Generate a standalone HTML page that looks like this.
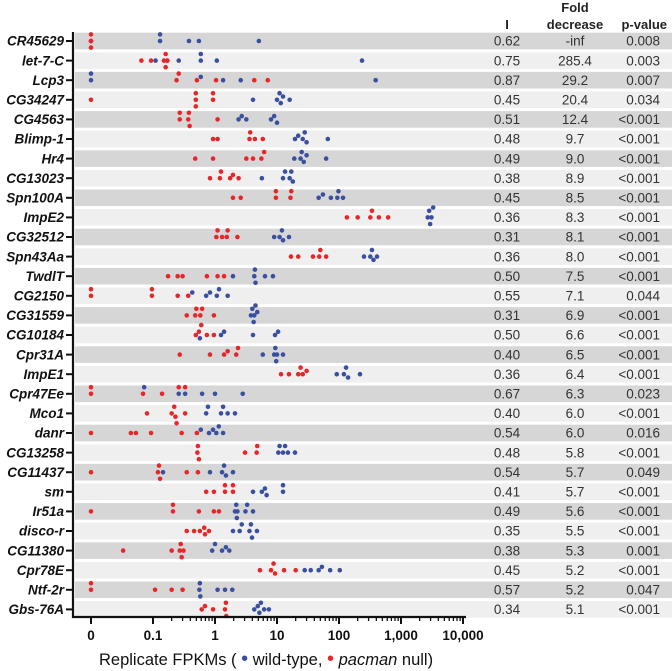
<!DOCTYPE html>
<html><head><meta charset="utf-8">
<style>
html,body{margin:0;padding:0;background:#fff;}
svg{display:block;font-family:"Liberation Sans",Arial,sans-serif;}
</style></head>
<body>
<svg id="chart" width="672" height="671" viewBox="0 0 672 671" xmlns="http://www.w3.org/2000/svg">
  <g id="bands"></g>
  <g id="table"></g>
  <g id="labels"></g>
  <g id="dots"></g>
  <g id="axes"></g>
</svg>
<script>
const genes = ["CR45629","let-7-C","Lcp3","CG34247","CG4563","Blimp-1","Hr4","CG13023","Spn100A","ImpE2","CG32512","Spn43Aa","TwdlT","CG2150","CG31559","CG10184","Cpr31A","ImpE1","Cpr47Ee","Mco1","danr","CG13258","CG11437","sm","Ir51a","disco-r","CG11380","Cpr78E","Ntf-2r","Gbs-76A"];
const colI = ["0.62","0.75","0.87","0.45","0.51","0.48","0.49","0.38","0.45","0.36","0.31","0.36","0.50","0.55","0.31","0.50","0.40","0.36","0.67","0.40","0.54","0.48","0.54","0.41","0.49","0.35","0.38","0.45","0.57","0.34"];
const colFold = ["-inf","285.4","29.2","20.4","12.4","9.7","9.0","8.9","8.5","8.3","8.1","8.0","7.5","7.1","6.9","6.6","6.5","6.4","6.3","6.0","6.0","5.8","5.7","5.7","5.6","5.5","5.3","5.2","5.2","5.1"];
const colP = ["0.008","0.003","0.007","0.034","<0.001","<0.001","<0.001","<0.001","<0.001","<0.001","<0.001","<0.001","<0.001","0.044","<0.001","<0.001","<0.001","<0.001","0.023","<0.001","0.016","<0.001","0.049","<0.001","<0.001","<0.001","0.001","<0.001","0.047","<0.001"];
const wildType = [
 [0,0.13,0.13,0.38,0.55,5.1],
 [0.11,0.26,0.59,0.59,1.07,235],
 [0,0,0.59,1.35,2.6,390],
 [4.1,10,11,11.5,12.5,16],
 [2.4,2.7,3.2,8,9,10],
 [19.5,22,26,28,30,66],
 [19,24,25,27,30,62],
 [5.7,12.5,13.5,16,17,18],
 [47,55,74,94,98,116],
 [2700,2850,2950,3100,3300],
 [9,11,12,12.5,15.6],
 [253,320,340,360,410],
 [1.95,4.3,4.4,4.5,6.4,8.6],
 [0.43,0.72,0.83,1.07,1.16,1.6],
 [3.8,4.0,4.2,4.3,4.5,4.8],
 [0.57,1.25,1.4,4.1,9.3,10.4],
 [5.9,9,9.4,9.7,10,12.5],
 [92,120,130,140,218],
 [0.072,0.26,0.33,0.62,1.0,2.8],
 [0.72,0.77,1.25,1.35,1.6,2.1],
 [0.59,0.8,0.93,1.05,1.15,1.35],
 [10.5,11,12.5,13.5,15,19.5],
 [0.145,0.83,1.3,1.4,1.5,1.95],
 [4.1,5.7,6.4,6.8,12.5,12.5],
 [2.1,2.2,2.25,2.3,3.1,3.3,4.1],
 [1.95,2.5,2.7,3.6,3.8,3.95,4.75],
 [0.9,1.0,1.3,1.5,1.7],
 [28,35,47,53,72,103],
 [0.56,0.57,0.58,1.1,1.45,1.9],
 [4.3,4.9,5.2,5.5,6.2,7.4]
];
const pacman = [
 [0,0,0,0],
 [0.065,0.093,0.15,0.16,0.16,0.17,0.17],
 [0.24,0.26,0.51,1.04,4.3,7.1],
 [0,0.49,0.49,0.49,0.93,0.93],
 [0.27,0.27,0.37,0.38,0.39,1.1],
 [0.93,1.1,3.6,3.7,4.4,5.9],
 [0.48,0.93,3.2,4.1,5.6,6.2],
 [0.83,1.2,1.25,1.75,1.95,2.4],
 [1.95,2.6,9.6,9.6,16.5,17],
 [134,200,320,340,440,620],
 [1.05,1.1,1.3,1.55,1.6,2.3],
 [16.8,22,38,48,50,62],
 [0.175,0.25,0.30,0.74,1.1,1.4],
 [0,0,0.096,0.096,0.25,0.37],
 [0.35,0.48,0.5,0.58,0.62,0.96],
 [0.49,0.55,0.6,0.74,0.96],
 [0.27,0.83,1.4,1.6,2.2,2.35],
 [11.6,15.6,22,24,26,30],
 [0,0,0.069,0.14,0.26,0.33],
 [0.08,0.2,0.22,0.23,0.24,0.33],
 [0,0.044,0.053,0.093,0.29,0.51],
 [0.52,0.53,0.55,3.05,4.7,4.8],
 [0,0.12,0.125,0.13,0.35,0.53],
 [0.72,0.96,1.45,1.45,1.95,1.95],
 [0,0.21,0.21,0.55,0.96,1.16],
 [0.35,0.46,0.57,0.67,0.69,0.8],
 [0.033,0.2,0.27,0.28,0.29,0.31],
 [5.3,8,8.8,9.3,13,20],
 [0,0,0.108,0.2,0.3],
 [0.61,0.69,0.93,1.45,1.5,1.52]
];
const tickLabels = ["0","0.1","1","10","100","1,000","10,000"];
const tickValues = [0,0.1,1,10,100,1000,10000];

const NS="http://www.w3.org/2000/svg";
function mk(tag,attrs,parent,text){const e=document.createElementNS(NS,tag);for(const k in attrs)e.setAttribute(k,attrs[k]);if(text!==undefined)e.textContent=text;parent.appendChild(e);return e;}
const X0=215, DEC=62, ZERO_X=91;
function xScale(v){return v<=0?ZERO_X:X0+DEC*Math.log10(v);}
const ROW0=41, ROWH=19.6;
function yScale(i){return ROW0+ROWH*i;}

const bands=document.getElementById('bands'), table=document.getElementById('table'), labels=document.getElementById('labels'), dots=document.getElementById('dots'), axes=document.getElementById('axes');

// headers
let h;
h=mk('text',{x:575,y:12,'text-anchor':'middle','font-size':13,'font-weight':'bold',fill:'#222'},table,'Fold');

h=mk('text',{x:507,y:29,'text-anchor':'middle','font-size':13,'font-weight':'bold',fill:'#222'},table,'I');

h=mk('text',{x:575,y:29,'text-anchor':'middle','font-size':13,'font-weight':'bold',fill:'#222'},table,'decrease');

h=mk('text',{x:667,y:29,'text-anchor':'end','font-size':13,'font-weight':'bold',fill:'#222'},table,'p-value');


genes.forEach((g,i)=>{
  const yc=yScale(i);
  const b=mk('rect',{x:75,y:yc-8.3,width:597,height:16.6,fill:i%2===0?'#d6d6d6':'#efefef'},bands);
  
  
  const t=mk('text',{x:64,y:yc+4.7,'text-anchor':'end','font-size':13.5,'font-weight':'bold','font-style':'italic',fill:'#111'},labels,g);
  
  
  const tk=mk('line',{x1:66,x2:74,y1:yc,y2:yc,stroke:'#111','stroke-width':2},axes);
  
  
  const c1=mk('text',{x:507,y:yc+4.7,'text-anchor':'middle','font-size':13.5,fill:'#333'},table,colI[i]);
  
  
  const c2=mk('text',{x:575,y:yc+4.7,'text-anchor':'middle','font-size':13.5,fill:'#333'},table,colFold[i]);
  
  
  const c3=mk('text',{x:660,y:yc+4.7,'text-anchor':'end','font-size':13.5,fill:'#333'},table,colP[i]);
  
  

  // beeswarm
  const pts=[];
  wildType[i].forEach(v=>pts.push({v,c:'#3a4fa0',s:'wild-type'}));
  pacman[i].forEach(v=>pts.push({v,c:'#e8262a',s:'pacman'}));
  pts.forEach(p=>p.x=xScale(p.v));
  pts.sort((a,b)=>a.x-b.x);
  const placed=[];
  const offs=[0,-3.3,3.3,-6.6,6.6,-9.9,9.9];
  pts.forEach(p=>{
    let oy=0;
    for(const o of offs){
      if(placed.every(q=>Math.hypot(q.x-p.x,q.y-o)>=4.4)){oy=o;break;}
    }
    placed.push({x:p.x,y:oy});
    const d=mk('circle',{cx:p.x,cy:yc+oy,r:2.3,fill:p.c},dots);
    
    
  });
});

// axes
let a=mk('line',{x1:73,x2:73,y1:32,y2:618,stroke:'#111','stroke-width':2.2},axes);

a=mk('line',{x1:72,x2:466,y1:617,y2:617,stroke:'#111','stroke-width':2.2},axes);

tickValues.forEach((v,k)=>{
  const x=xScale(v);
  const t=mk('line',{x1:x,x2:x,y1:617,y2:624,stroke:'#111','stroke-width':2},axes);
  
  
  const l=mk('text',{x:x,y:640,'text-anchor':'middle','font-size':13.5,'font-weight':'bold',fill:'#111'},axes,tickLabels[k]);
  
  
  if(v>0 && v<10000){
    for(let m=2;m<=9;m++){
      const mx=xScale(v*m);
      const mt=mk('line',{x1:mx,x2:mx,y1:617,y2:621,stroke:'#111','stroke-width':1.3},axes);
      
      
    }
  }
});
const title=mk('text',{x:99,y:665,'font-size':16.5,fill:'#111'},axes);


title.innerHTML='Replicate FPKMs ( <tspan fill="#3a4fa0" font-size="20">•</tspan> wild-type, <tspan fill="#e8262a" font-size="20">•</tspan> <tspan font-style="italic">pacman</tspan> null)';
</script>
</body></html>
